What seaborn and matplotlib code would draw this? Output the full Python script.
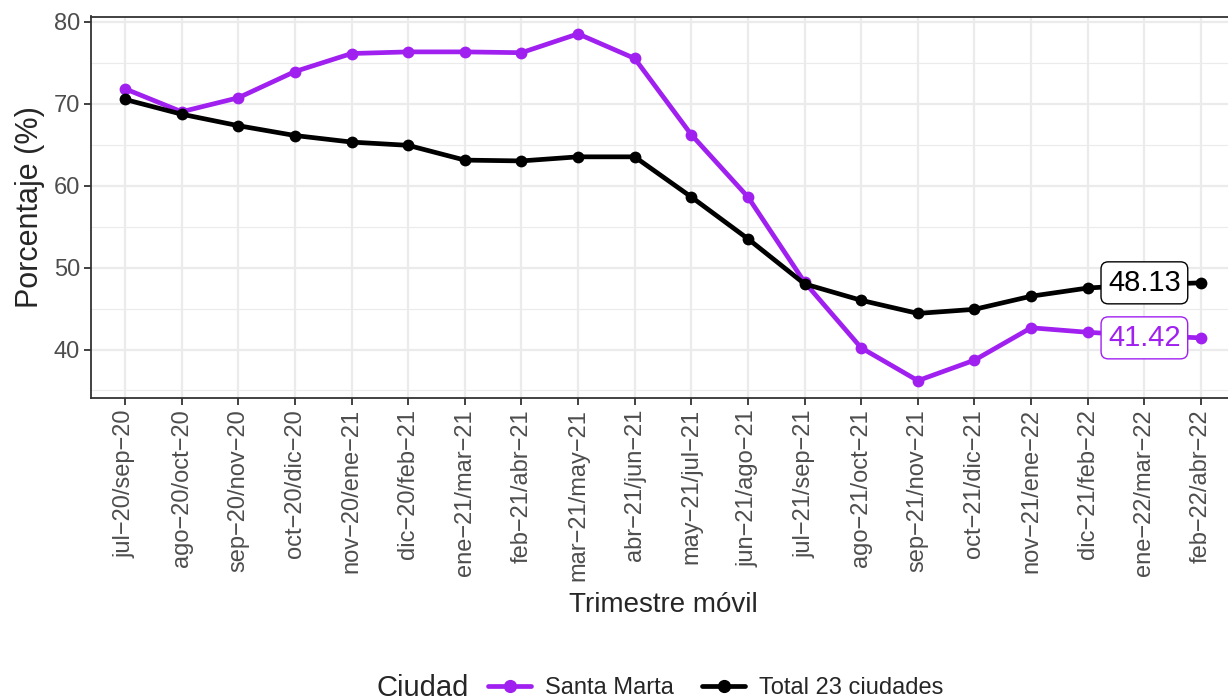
import matplotlib
matplotlib.use("Agg")
import matplotlib.pyplot as plt
import seaborn as sns
import pandas as pd
from matplotlib.lines import Line2D
from matplotlib.offsetbox import HPacker

categorias = ["jul−20/sep−20", "ago−20/oct−20", "sep−20/nov−20", "oct−20/dic−20",
              "nov−20/ene−21", "dic−20/feb−21", "ene−21/mar−21", "feb−21/abr−21",
              "mar−21/may−21", "abr−21/jun−21", "may−21/jul−21", "jun−21/ago−21",
              "jul−21/sep−21", "ago−21/oct−21", "sep−21/nov−21", "oct−21/dic−21",
              "nov−21/ene−22", "dic−21/feb−22", "ene−22/mar−22", "feb−22/abr−22"]
santa_marta = [71.8, 69.0, 70.7, 73.9, 76.1, 76.3, 76.3, 76.2, 78.5, 75.5,
               66.2, 58.6, 48.2, 40.2, 36.2, 38.7, 42.65, 42.1, 41.7, 41.42]
total_23 = [70.5, 68.7, 67.3, 66.1, 65.3, 64.9, 63.1, 63.0, 63.5, 63.5,
            58.6, 53.5, 48.0, 46.0, 44.4, 44.9, 46.5, 47.5, 47.9, 48.13]
series = ["Santa Marta", "Total 23 ciudades"]
colores = ["#A020F0", "#000000"]
y_ticks = [40, 50, 60, 70, 80]

df = pd.DataFrame({
    "x": list(range(len(categorias))) * 2,
    "valor": santa_marta + total_23,
    "Ciudad": [series[0]] * len(categorias) + [series[1]] * len(categorias),
})

sns.set_theme(style="white")
plt.rcParams["font.family"] = ["Liberation Sans", "DejaVu Sans"]

fig = plt.figure(figsize=(12.28, 7.0), dpi=100)
ax = fig.add_axes([91 / 1228, 1 - 398 / 700, (1235 - 91) / 1228, (398 - 16.5) / 700])

sns.lineplot(data=df, x="x", y="valor", hue="Ciudad", palette=colores,
             hue_order=series, linewidth=3.4, marker="o", markersize=8.5,
             markeredgewidth=0, ax=ax, legend=False, zorder=3)

n = len(categorias)
ax.set_xlim(-0.6, n - 1 + 0.6)
ymin, ymax = min(santa_marta + total_23), max(santa_marta + total_23)
pad = (ymax - ymin) * 0.05
ax.set_ylim(ymin - pad, ymax + pad)

ax.set_xticks(range(n))
ax.set_xticklabels(categorias, rotation=90, fontsize=17, color="#4D4D4D")
ax.set_yticks(y_ticks)
ax.set_yticklabels([str(v) for v in y_ticks], fontsize=17, color="#4D4D4D")
ax.set_yticks([35, 45, 55, 65, 75], minor=True)

ax.grid(True, which="major", color="#EBEBEB", linewidth=1.6, zorder=0)
ax.grid(True, which="minor", axis="y", color="#EBEBEB", linewidth=0.8, zorder=0)
ax.set_axisbelow(True)
for s in ax.spines.values():
    s.set_color("#333333")
    s.set_linewidth(1.3)
ax.tick_params(axis="both", which="major", direction="out", length=5, width=1.3,
               color="#333333", pad=3, bottom=True, left=True)
ax.tick_params(axis="both", which="minor", length=0)

ax.set_xlabel("Trimestre móvil", fontsize=20, labelpad=8)
ax.set_ylabel("Porcentaje (%)", fontsize=22, labelpad=6)

# end labels
ax.text(n - 2, total_23[-1], f"{total_23[-1]:.2f}", fontsize=21, color="black",
        ha="center", va="center", zorder=5,
        bbox=dict(boxstyle="round,pad=0.24,rounding_size=0.25", fc="white", ec="black", lw=1.0))
ax.text(n - 2, santa_marta[-1], f"{santa_marta[-1]:.2f}", fontsize=21, color=colores[0],
        ha="center", va="center", zorder=5,
        bbox=dict(boxstyle="round,pad=0.24,rounding_size=0.25", fc="white", ec=colores[0], lw=1.0))

# legend
handles = [Line2D([0], [0], color=c, lw=3.4, marker="o", markersize=8.5) for c in colores]
leg = fig.legend(handles, series, loc="center", bbox_to_anchor=(660 / 1228, 1 - 688 / 700),
                 ncol=2, frameon=False, fontsize=17, title="Ciudad", title_fontsize=21,
                 handlelength=1.8, columnspacing=1.2, handletextpad=0.6, borderpad=0)
title_box = leg._legend_title_box
handle_box = leg._legend_handle_box
leg._legend_box._children = [HPacker(pad=0, sep=14, align="center",
                                     children=[title_box, handle_box])]

fig.savefig("out.png", dpi=100)
